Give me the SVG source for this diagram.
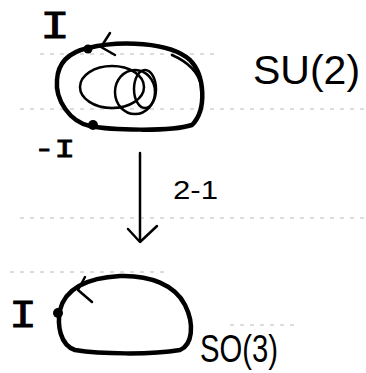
<svg xmlns="http://www.w3.org/2000/svg" width="366" height="373" viewBox="0 0 366 373">
<style>
.ink{fill:none;stroke:#000;stroke-linecap:round;stroke-linejoin:round}
.thick{stroke-width:4.5}
.thin{stroke-width:2.5}
.rule{fill:none;stroke:#888;stroke-width:1;stroke-dasharray:4 6;opacity:0.6}
.lbl{font-family:"Liberation Sans",Arial,sans-serif;fill:#000}
.lblM{font-family:"Liberation Mono","Courier New",monospace;fill:#000;stroke:#000;stroke-width:0.8}
</style>
<rect width="366" height="373" fill="#fff"/>
<g id="rules">
<line class="rule" x1="40" y1="54" x2="215" y2="54"/>
<line class="rule" x1="20" y1="109" x2="366" y2="109"/>
<line class="rule" x1="20" y1="218" x2="366" y2="218"/>
<line class="rule" x1="10" y1="272" x2="165" y2="272"/>
<line class="rule" x1="230" y1="325" x2="295" y2="325"/>
</g>
<g id="su2">
<path class="ink thick" d="M88,48 C120,40 170,42 190,60 C205,75 207,110 192,125 C170,132 110,130 90,126 C70,122 55,100 57,80 C58,62 70,52 88,48 Z"/>
<path class="ink thin" d="M172,55 C188,62 198,72 201,85"/>
<path class="ink thin" d="M110,33 L101,47 L115,55"/>
<ellipse class="ink thin" cx="112" cy="87" rx="32" ry="21"/>
<ellipse class="ink thin" cx="135" cy="92" rx="20" ry="22"/>
<ellipse class="ink thin" cx="145" cy="89" rx="11" ry="19"/>
<circle cx="88" cy="49" r="4.5" fill="#000"/>
<circle cx="93" cy="125" r="5" fill="#000"/>
<text class="lblM" x="40" y="38" font-size="38" textLength="30" lengthAdjust="spacingAndGlyphs">I</text>
<text class="lblM" x="34" y="157" font-size="26" textLength="41" lengthAdjust="spacingAndGlyphs">-I</text>
<text class="lbl" x="253" y="84" font-size="41">SU(2)</text>
</g>
<g id="connectors">
<line class="ink thin" x1="140" y1="153" x2="140" y2="241"/>
<path class="ink thin" d="M128,229 L140,242 L157,226"/>
<text class="lbl" x="173" y="199" font-size="26" textLength="45" lengthAdjust="spacingAndGlyphs">2-1</text>
</g>
<g id="so3">
<path class="ink thick" d="M60,310 C65,290 85,278 120,276 C150,275 175,285 185,305 C195,325 192,345 180,350 C150,355 100,354 75,350 C60,345 57,325 60,310 Z"/>
<path class="ink thin" d="M85,277 L78,290 L92,302"/>
<circle cx="58" cy="313" r="5" fill="#000"/>
<text class="lblM" x="9" y="327" font-size="38" textLength="28" lengthAdjust="spacingAndGlyphs">I</text>
<text class="lbl" x="200" y="362" font-size="38" textLength="78" lengthAdjust="spacingAndGlyphs">SO(3)</text>
</g>
</svg>
